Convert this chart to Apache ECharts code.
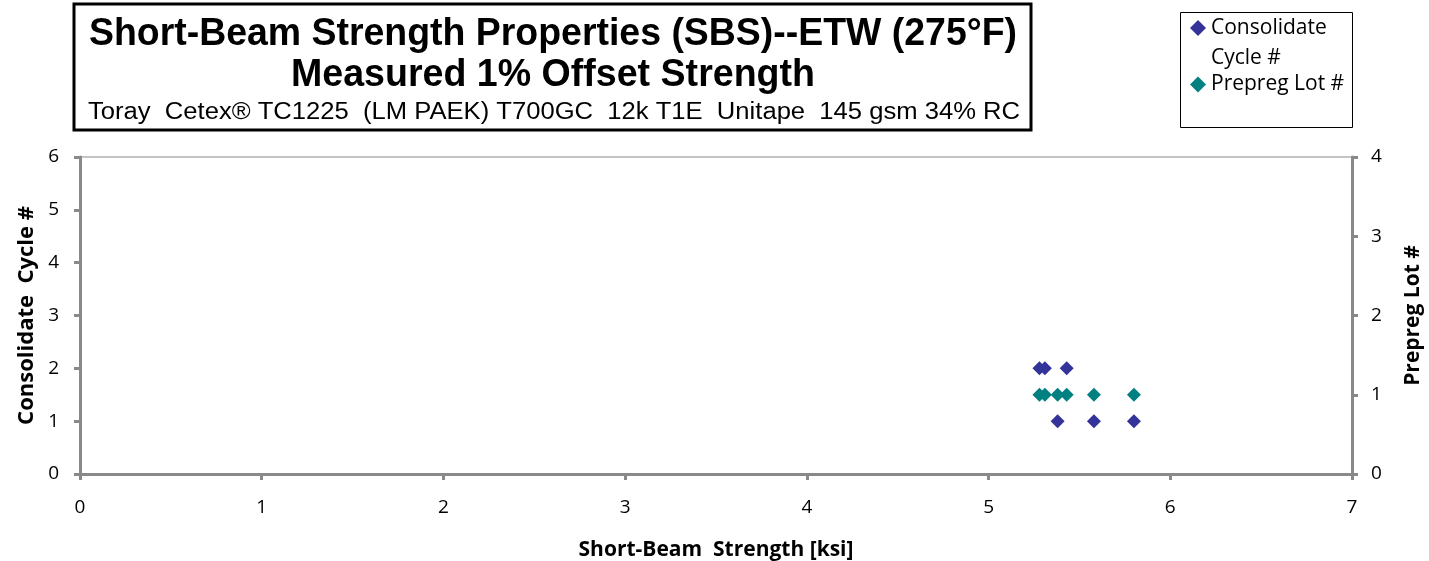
<!DOCTYPE html>
<html>
<head>
<meta charset="utf-8">
<script src="https://cdn.jsdelivr.net/npm/echarts@6/dist/echarts.min.js"></script>
<style>html,body{margin:0;padding:0;background:#fff;}#c{width:1429px;height:561px;}</style>
</head>
<body>
<div id="c"></div>
<script>
// ---- data ----
var strengthKsi = [5.28, 5.31, 5.38, 5.43, 5.58, 5.80];
var consolidateCycle = [2, 2, 1, 2, 1, 1];
var prepregLot = [1, 1, 1, 1, 1, 1];
var xTicks = [0, 1, 2, 3, 4, 5, 6, 7];
var leftTicks = [0, 1, 2, 3, 4, 5, 6];
var rightTicks = [0, 1, 2, 3, 4];
var titleLines = [
  'Short-Beam Strength Properties (SBS)--ETW (275°F)',
  'Measured 1% Offset Strength',
  'Toray  Cetex® TC1225  (LM PAEK) T700GC  12k T1E  Unitape  145 gsm 34% RC'
];
var seriesNames = ['Consolidate Cycle #', 'Prepreg Lot #'];

// ---- helpers ----
var mctx = document.createElement('canvas').getContext('2d');
function fitScale(text, font, target) {
  mctx.font = font;
  return target / mctx.measureText(text).width;
}
var f1 = 'bold 38px "Liberation Sans"';
var f3 = '23px "Liberation Sans"';

var chart = echarts.init(document.getElementById('c'), null, {renderer: 'canvas'});
var axisColor = '#898989';
var labelFont = 'Open Sans';
var nameStyle = function (s) { return {fontFamily: labelFont, fontSize: s, fontWeight: 'bold', color: '#000'}; };
var tickLabel = function (m) { return {fontFamily: labelFont, fontSize: 19, color: '#000', margin: m}; };

var option = {
  backgroundColor: '#fff',
  animation: false,
  grid: {left: 80, right: 77, top: 157, bottom: 87, show: true, borderColor: axisColor, borderWidth: 1,
         containLabel: false, outerBoundsMode: 'none'},
  legend: {
    orient: 'vertical',
    left: 1190,
    top: -17,
    padding: 0,
    itemGap: 1,
    itemWidth: 16,
    itemHeight: 16,
    textStyle: {fontFamily: labelFont, fontSize: 21, color: '#000', lineHeight: 30},
    formatter: function (n) { return n === seriesNames[0] ? '\nConsolidate\nCycle #' : n; },
    data: [
      {name: seriesNames[0], icon: 'diamond'},
      {name: seriesNames[1], icon: 'diamond', textStyle: {lineHeight: 20}}
    ]
  },
  xAxis: {
    type: 'value', min: xTicks[0], max: xTicks[xTicks.length - 1], interval: 1,
    name: 'Short-Beam  Strength [ksi]', nameLocation: 'middle', nameGap: 66,
    nameTextStyle: nameStyle(21),
    axisLine: {lineStyle: {color: axisColor, width: 3}},
    axisTick: {show: true, length: 6, lineStyle: {color: axisColor, width: 3}},
    axisLabel: tickLabel(24),
    splitLine: {show: false}
  },
  yAxis: [{
    type: 'value', min: leftTicks[0], max: leftTicks[leftTicks.length - 1], interval: 1, position: 'left',
    name: 'Consolidate  Cycle #', nameLocation: 'middle', nameGap: 40, nameRotate: 90,
    nameTextStyle: nameStyle(22),
    axisLine: {show: true, lineStyle: {color: axisColor, width: 3}},
    axisTick: {show: true, length: 6, lineStyle: {color: axisColor, width: 3}},
    axisLabel: tickLabel(21),
    splitLine: {show: false}
  }, {
    type: 'value', min: rightTicks[0], max: rightTicks[rightTicks.length - 1], interval: 1, position: 'right',
    name: 'Prepreg Lot #', nameLocation: 'middle', nameGap: 51, nameRotate: 90,
    nameTextStyle: nameStyle(21),
    axisLine: {show: true, lineStyle: {color: axisColor, width: 3}},
    axisTick: {show: true, length: 6, lineStyle: {color: axisColor, width: 3}},
    axisLabel: tickLabel(19),
    splitLine: {show: false}
  }],
  series: [{
    name: seriesNames[0], type: 'scatter', yAxisIndex: 0, symbol: 'diamond', symbolSize: 14,
    itemStyle: {color: '#333399', opacity: 1},
    data: strengthKsi.map(function (x, i) { return [x, consolidateCycle[i]]; })
  }, {
    name: seriesNames[1], type: 'scatter', yAxisIndex: 1, symbol: 'diamond', symbolSize: 14,
    itemStyle: {color: '#008080', opacity: 1},
    data: strengthKsi.map(function (x, i) { return [x, prepregLot[i]]; })
  }],
  graphic: [
    {type: 'rect', shape: {x: 74, y: 4, width: 957, height: 126}, style: {fill: 'none', stroke: '#000', lineWidth: 3}},
    {type: 'text', x: 553, y: 35, scaleX: fitScale(titleLines[0], f1, 928),
      style: {text: titleLines[0], font: f1, fill: '#000', align: 'center', verticalAlign: 'middle'}},
    {type: 'text', x: 553, y: 76, scaleX: fitScale(titleLines[1], f1, 524),
      style: {text: titleLines[1], font: f1, fill: '#000', align: 'center', verticalAlign: 'middle'}},
    {type: 'text', x: 554, y: 113, scaleX: fitScale(titleLines[2], f3, 932),
      style: {text: titleLines[2], font: f3, fill: '#000', align: 'center', verticalAlign: 'middle'}},
    {type: 'rect', shape: {x: 1180.5, y: 12.5, width: 172, height: 115}, style: {fill: 'none', stroke: '#000', lineWidth: 1}}
  ]
};
chart.setOption(option);
</script>
</body>
</html>
